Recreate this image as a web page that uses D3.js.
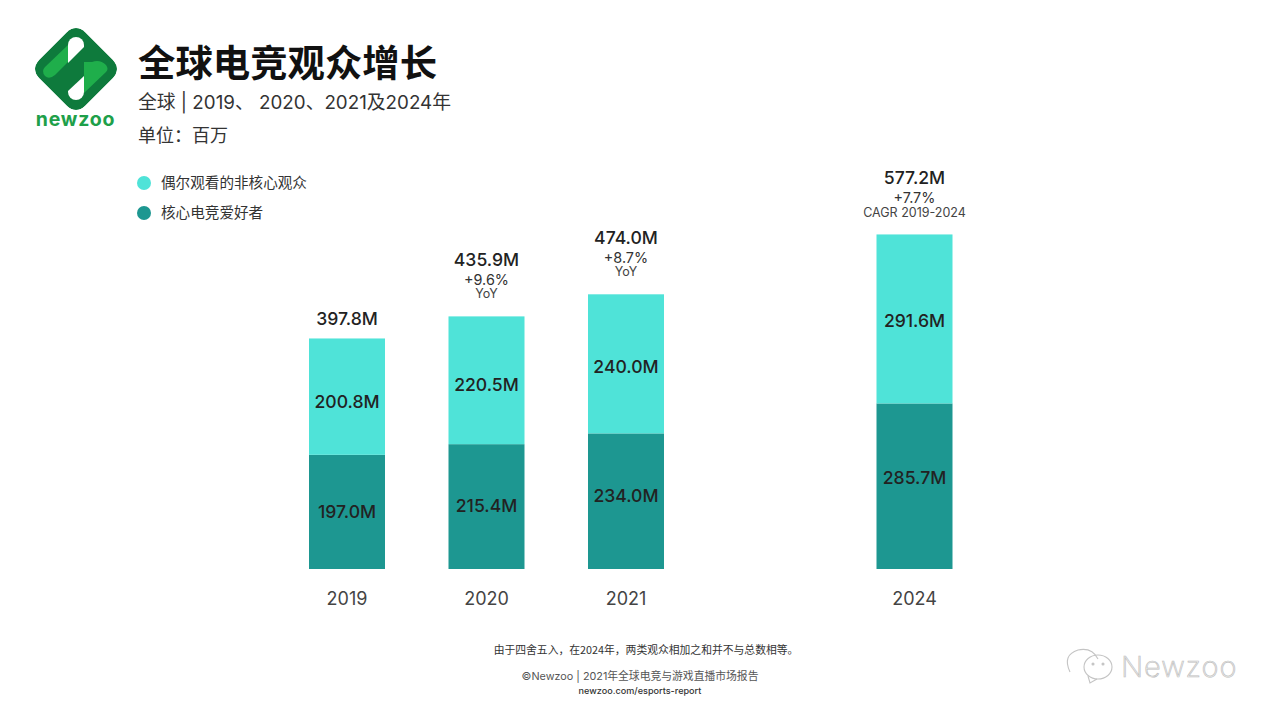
<!DOCTYPE html>
<html><head><meta charset="utf-8">
<script src="https://cdn.jsdelivr.net/npm/d3@7/dist/d3.min.js"></script>
<style>html,body{margin:0;padding:0;background:#fff;overflow:hidden}svg{display:block}</style>
</head><body><svg id="c" width="1280" height="720"></svg>
<script>
const years = ["2019","2020","2021","2024"];
const core = [197.0,215.4,234.0,285.7];
const casual = [200.8,220.5,240.0,291.6];
const totals = [397.8,435.9,474.0,577.2];
const growth = ["","+9.6%","+8.7%","+7.7%"];
const growthNote = ["","YoY","YoY","CAGR 2019-2024"];
const legendItems = ["偶尔观看的非核心观众","核心电竞爱好者"];
const colors = ["#4fe3d8","#1d9791"];

const latin = "Inter, 'Noto Sans CJK SC', sans-serif";
const cjk = "'Noto Sans CJK SC', sans-serif";
const ink = "#222";
const svg = d3.select("#c");

const x = d3.scaleOrdinal(years,[347,486.5,626,914.5]);
const y = d3.scaleLinear([0,577.2],[569,234.5]);
const barW = 76;

const stacked = d3.stack().keys(["core","casual"])(years.map((yr,i)=>({yr,core:core[i],casual:casual[i]})));
const g = svg.append("g");
g.selectAll("g").data(stacked).join("g").attr("fill",(d,i)=>colors[i===0?1:0])
 .selectAll("rect").data(d=>d).join("rect")
 .attr("x",d=>x(d.data.yr)-barW/2).attr("width",barW)
 .attr("y",d=>y(d[1])).attr("height",d=>y(d[0])-y(d[1]));

const fmt = v=>v.toFixed(1)+"M";
function label(t,px,py,size,weight,fill,font){
  return svg.append("text").attr("x",px).attr("y",py).attr("text-anchor","middle")
   .attr("font-family",font||latin).attr("font-size",size).attr("font-weight",weight||400).attr("fill",fill||ink).text(t);
}
// the labels in the source do not sit exactly at segment centres
const coreNudge = [0,-1,-5,-8];
const casualNudge = [5,5,3,2];
years.forEach((yr,i)=>{
  label(fmt(core[i]),x(yr),y(core[i]/2)+6+coreNudge[i],17.6,500);
  label(fmt(casual[i]),x(yr),y(core[i]+casual[i]/2)+6+casualNudge[i],17.6,500);
  const top = y(core[i]+casual[i]);
  const hasNote = growth[i]!=="";
  const off = hasNote ? 50 : 13;
  label(fmt(totals[i]),x(yr),top-off,17.6,500);
  if(hasNote){
    label(growth[i],x(yr),top-off+18.5,14.4,400,"#333");
    label(growthNote[i],x(yr),top-off+(i===3?33:31.5),12.5,400,"#444");
  }
});

const axis = d3.axisBottom(x).tickSize(0).tickPadding(0);
const ax = svg.append("g").attr("transform","translate(0,605)").call(axis);
ax.select(".domain").remove();
ax.selectAll("text").attr("font-family",latin).attr("font-size",18).attr("fill","#444").attr("dy",0).attr("dx",-0.5);

// header
svg.append("text").attr("x",138).attr("y",77).attr("font-family",cjk).attr("font-size",37.4).attr("font-weight",700).attr("fill","#111").text("全球电竞观众增长");
svg.append("text").attr("x",138).attr("y",109).attr("font-family",latin).attr("font-size",18.8).attr("fill","#333").text("全球 | 2019、 2020、2021及2024年");
svg.append("text").attr("x",138).attr("y",142).attr("font-family",cjk).attr("font-size",18).attr("fill","#333").text("单位：百万");

// legend
legendItems.forEach((t,i)=>{
  const ly = 183+i*30;
  svg.append("circle").attr("cx",144).attr("cy",ly).attr("r",7).attr("fill",colors[i]);
  svg.append("text").attr("x",161).attr("y",ly+5).attr("font-family",cjk).attr("font-size",14.6).attr("fill","#333").text(t);
});

// footer
label("由于四舍五入，在2024年，两类观众相加之和并不与总数相等。",646,654,10.8,400,"#333",cjk);
label("©Newzoo | 2021年全球电竞与游戏直播市场报告",640,680,10.8,400,"#555",latin);
label("newzoo.com/esports-report",640,694,9.1,500,"#333",latin);

// logo
const defs = svg.append("defs");
const diamond = "M76 28 Q81 28 85 32 L113 60 Q117 64.5 117 69 Q117 73.5 113 78 L85 106 Q81 110 76 110 Q71 110 67 106 L39 78 Q35 73.5 35 69 Q35 64.5 39 60 L67 32 Q71 28 76 28Z";
defs.append("clipPath").attr("id","lg").append("path").attr("d",diamond);
const logo = svg.append("g").attr("clip-path","url(#lg)");
logo.append("path").attr("d",diamond).attr("fill","#0e7a3c");
const logoPart = (d,c)=>logo.append("path").attr("d",d).attr("fill",c);
logoPart("M45 67 L68 45 L68 62 L55 75 Q49 80 45 76 Q41 71 45 67Z","#1fae4b");
logoPart("M84 62 L92 62 Q100 59 106 65 Q109 69 106 72 L84 93Z","#1fae4b");
logoPart("M68 45 A8 8 0 0 1 84 45 L84 47 L68 63Z","#fff");
logoPart("M84 76 L84 92 A8 8 0 0 1 68 92 L68 91Z","#fff");
label("newzoo",75.5,126,19.5,700,"#1ea04a",latin).attr("letter-spacing",0.8);

// watermark
const wm = svg.append("g").attr("fill","none").attr("stroke","#c4c4c4").attr("stroke-width",1.1);
wm.append("path").attr("d","M1070 672 Q1062 655 1078 650 Q1092 647 1098 659");
wm.append("ellipse").attr("cx",1098).attr("cy",667).attr("rx",14).attr("ry",12);
wm.append("path").attr("d","M1088 676 L1090 683 L1097 679");
wm.selectAll("circle").data([1093,1103]).join("circle").attr("cx",d=>d).attr("cy",664).attr("r",1).attr("fill","#bbb");
svg.append("text").attr("x",1121).attr("y",677).attr("font-family",latin).attr("font-size",29).attr("font-weight",200).attr("letter-spacing",0.9)
 .attr("fill","#fff").attr("stroke","#bdbdbd").attr("stroke-width",0.7).text("Newzoo");
</script></body></html>
